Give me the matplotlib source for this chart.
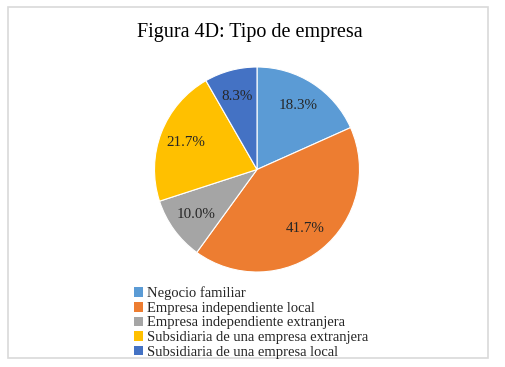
import matplotlib
matplotlib.use("Agg")
import matplotlib.pyplot as plt
from matplotlib.patches import Rectangle

categories = ["Negocio familiar", "Empresa independiente local",
              "Empresa independiente extranjera",
              "Subsidiaria de una empresa extranjera",
              "Subsidiaria de una empresa local"]
values = [18.3, 41.7, 10.0, 21.7, 8.3]
colors = ["#5B9BD5", "#ED7D31", "#A5A5A5", "#FFC000", "#4472C4"]
title = "Figura 4D: Tipo de empresa"

W, H = 505, 367
fig = plt.figure(figsize=(W / 100, H / 100), dpi=100)
plt.rcParams['font.family'] = ['Liberation Serif', 'DejaVu Serif']

# chart border
fig.patches.append(Rectangle((8 / W, 1 - 357.5 / H), (488 - 8) / W, (357.5 - 7) / H,
                             transform=fig.transFigure, fill=False,
                             edgecolor="#D9D9D9", linewidth=1.2))

fig.text(250 / W, 1 - 33 / H, title, ha="center", va="center", fontsize=14.5)

cx, cy, r = 257, 169.5, 102.5
ax = fig.add_axes([(cx - r) / W, 1 - (cy + r) / H, 2 * r / W, 2 * r / H])
wedges, texts, autotexts = ax.pie(values, colors=colors, startangle=90, counterclock=False,
                                  autopct=lambda p: f"{p:.1f}%", pctdistance=0.74,
                                  wedgeprops=dict(edgecolor="white", linewidth=0.8),
                                  textprops=dict(fontsize=10.8, color="#262626"),
                                  radius=1.0)
ax.set_xlim(-1, 1)
ax.set_ylim(-1, 1)
ax.set_aspect("equal")
ax.axis("off")

leg = fig.legend(wedges, categories, loc="upper left",
                 bbox_to_anchor=(134 / W, 1 - 286.5 / H), frameon=False,
                 fontsize=10.5, handlelength=0.65, handleheight=0.65,
                 handletextpad=0.25, labelspacing=0.11, borderpad=0, borderaxespad=0)
for t in leg.get_texts():
    t.set_color("#262626")
for h in leg.legend_handles:
    h.set_edgecolor("none")

fig.savefig("out.png", dpi=100)
